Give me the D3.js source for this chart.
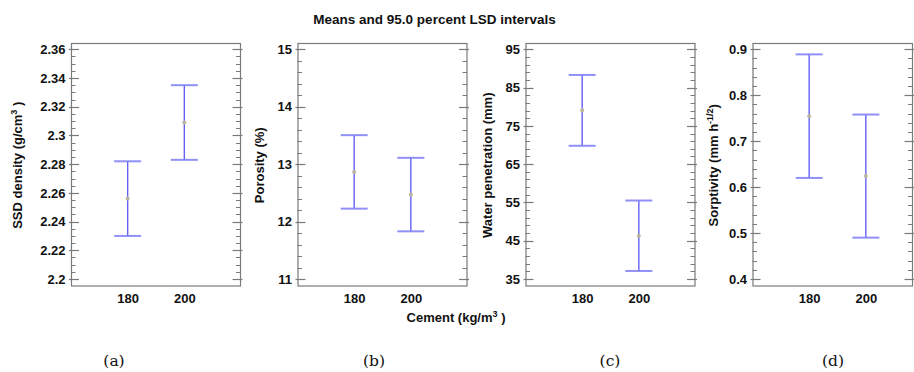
<!DOCTYPE html>
<html>
<head>
<meta charset="utf-8">
<script src="https://cdn.jsdelivr.net/npm/d3@7"></script>
<style>
  body { margin: 0; background: #fff; }
  svg { display: block; }
</style>
</head>
<body>
<svg id="chart" width="914" height="372"></svg>
<script>
// Cement content groups (kg/m3)
const categories = ["180", "200"];

// (a) SSD density, g/cm3: means with 95% LSD interval limits
const densityMean = [2.256, 2.309];
const densityLow  = [2.230, 2.283];
const densityHigh = [2.282, 2.335];

// (b) Porosity, %
const porosityMean = [12.865, 12.47];
const porosityLow  = [12.225, 11.83];
const porosityHigh = [13.505, 13.11];

// (c) Water penetration, mm
const penetrationMean = [79.05, 46.3];
const penetrationLow  = [69.8, 37.1];
const penetrationHigh = [88.3, 55.5];

// (d) Sorptivity, mm h^-1/2
const sorptivityMean = [0.754, 0.624];
const sorptivityLow  = [0.620, 0.490];
const sorptivityHigh = [0.889, 0.758];

// Major tick values for each y axis
const densityTicks     = [2.2, 2.22, 2.24, 2.26, 2.28, 2.3, 2.32, 2.34, 2.36];
const porosityTicks    = [11, 12, 13, 14, 15];
const penetrationTicks = [35, 45, 55, 65, 75, 85, 95];
const sorptivityTicks  = [0.4, 0.5, 0.6, 0.7, 0.8, 0.9];

// Minor tick spacing per axis
const densityMinor = 0.005, porosityMinor = 0.2, penetrationMinor = 2, sorptivityMinor = 0.02;

const panelLetters = ["(a)", "(b)", "(c)", "(d)"];
const chartTitle = "Means and 95.0 percent LSD intervals";

// ---- layout ----
const W = 914;
const boxTop = 43, boxBottom = 285.5;
const tickTop = 49.3, tickBottom = 279;
const plotW = 170;
const panelLeft = [71, 297.5, 525.5, 752.5];
const titleOffset = [54, 38, 38, 39];

const panels = [
  { mean: densityMean, low: densityLow, high: densityHigh, ticks: densityTicks, minor: densityMinor,
    title: [["SSD density (g/cm", 0], ["3", 1], [" )", 0]] },
  { mean: porosityMean, low: porosityLow, high: porosityHigh, ticks: porosityTicks, minor: porosityMinor,
    title: [["Porosity (%)", 0]] },
  { mean: penetrationMean, low: penetrationLow, high: penetrationHigh, ticks: penetrationTicks, minor: penetrationMinor,
    title: [["Water penetration (mm)", 0]] },
  { mean: sorptivityMean, low: sorptivityLow, high: sorptivityHigh, ticks: sorptivityTicks, minor: sorptivityMinor,
    title: [["Sorptivity (mm h", 0], ["-1/2", 1], [")", 0]] }
];

const svg = d3.select("#chart");
svg.append("rect").attr("width", 914).attr("height", 372).attr("fill", "#fff");

const axisColor = "#7a7a7a";
const font = "'Liberation Sans', Arial, sans-serif";
const fmt = v => String(+v.toFixed(4));

// Chart title
svg.append("text")
  .attr("x", 434.5).attr("y", 24)
  .attr("text-anchor", "middle")
  .attr("font-family", font).attr("font-weight", "bold").attr("font-size", 13.5)
  .attr("fill", "#111")
  .text(chartTitle);

panels.forEach((p, i) => {
  const left = panelLeft[i];
  const frameW = Math.min(plotW, W - 1 - left);
  const g = svg.append("g");

  const x = d3.scalePoint().domain(categories).range([left, left + plotW]).padding(1);
  const lo = d3.min(p.ticks), hi = d3.max(p.ticks);
  const y = d3.scaleLinear().domain([lo, hi]).range([tickBottom, tickTop]);

  // frame
  g.append("rect")
    .attr("x", left + 0.5).attr("y", boxTop + 0.5)
    .attr("width", frameW - 1).attr("height", boxBottom - boxTop)
    .attr("fill", "none").attr("stroke", axisColor).attr("stroke-width", 1.2);

  // minor ticks (inside, both sides)
  const minors = d3.range(lo, hi + p.minor / 2, p.minor)
    .filter(v => !p.ticks.some(t => Math.abs(t - v) < p.minor / 10));
  const right = left + frameW - 0.5;
  minors.forEach(v => {
    const yy = Math.round(y(v)) + 0.5;
    g.append("line").attr("x1", left).attr("x2", left + 4.5).attr("y1", yy).attr("y2", yy)
      .attr("stroke", axisColor).attr("stroke-width", 1);
    g.append("line").attr("x1", right).attr("x2", right - 4.5).attr("y1", yy).attr("y2", yy)
      .attr("stroke", axisColor).attr("stroke-width", 1);
  });

  // left axis with major ticks and labels
  const yAxis = d3.axisLeft(y).tickValues(p.ticks).tickFormat(fmt).tickSize(0).tickPadding(6);
  const ax = g.append("g").attr("transform", `translate(${left + 0.5},0)`).call(yAxis);
  ax.select(".domain").remove();
  ax.selectAll("text")
    .attr("font-family", font).attr("font-weight", "bold").attr("font-size", 13)
    .attr("fill", "#111");
  p.ticks.forEach(v => {
    const yy = Math.round(y(v)) + 0.5;
    g.append("line").attr("x1", left - 2).attr("x2", left + 8).attr("y1", yy).attr("y2", yy)
      .attr("stroke", axisColor).attr("stroke-width", 1.2);
    g.append("line").attr("x1", right + 2).attr("x2", right - 8).attr("y1", yy).attr("y2", yy)
      .attr("stroke", axisColor).attr("stroke-width", 1.2);
  });

  // x category labels
  const xAxis = d3.axisBottom(x).tickSize(0).tickPadding(0);
  const xa = g.append("g").attr("transform", `translate(0,${boxBottom})`).call(xAxis);
  xa.select(".domain").remove();
  xa.selectAll("text")
    .attr("y", 17.5).attr("dy", 0)
    .attr("font-family", font).attr("font-weight", "bold").attr("font-size", 13)
    .attr("fill", "#111");

  // y title
  const tx = left - titleOffset[i];
  const ty = (boxTop + boxBottom) / 2 + 1;
  const t = g.append("text")
    .attr("transform", `translate(${tx},${ty}) rotate(-90)`)
    .attr("text-anchor", "middle").attr("dy", "0.35em")
    .attr("font-family", font).attr("font-weight", "bold").attr("font-size", 13)
    .attr("fill", "#111");
  p.title.forEach(([s, sup]) => {
    const ts = t.append("tspan").text(s);
    if (sup) ts.attr("font-size", 9).attr("baseline-shift", "super");
  });

  // error bars
  const capHalf = 13.5;
  const bars = g.selectAll("g.bar").data(categories.map((c, k) => ({ c, m: p.mean[k], l: p.low[k], h: p.high[k] })))
    .join("g").attr("class", "bar");
  bars.append("line")
    .attr("x1", d => x(d.c)).attr("x2", d => x(d.c))
    .attr("y1", d => y(d.l)).attr("y2", d => y(d.h))
    .attr("stroke", "#6262f5").attr("stroke-width", 1.4);
  ["l", "h"].forEach(k => {
    bars.append("line")
      .attr("x1", d => x(d.c) - capHalf).attr("x2", d => x(d.c) + capHalf)
      .attr("y1", d => y(d[k])).attr("y2", d => y(d[k]))
      .attr("stroke", "#7c7cf7").attr("stroke-width", 2).attr("stroke-opacity", 0.85);
  });
  bars.append("circle")
    .attr("cx", d => x(d.c)).attr("cy", d => y(d.m)).attr("r", 2)
    .attr("fill", "#b9b79a");

  // panel letter
  svg.append("text")
    .attr("x", [114, 374, 610, 833][i]).attr("y", 366)
    .attr("text-anchor", "middle")
    .attr("font-family", "'DejaVu Serif', 'Liberation Serif', serif").attr("font-size", 15.5)
    .attr("fill", "#111")
    .text(panelLetters[i]);
});

// shared x-axis title
const xt = svg.append("text")
  .attr("x", 456).attr("y", 322)
  .attr("text-anchor", "middle")
  .attr("font-family", font).attr("font-weight", "bold").attr("font-size", 13)
  .attr("fill", "#111");
xt.append("tspan").text("Cement (kg/m");
xt.append("tspan").text("3").attr("font-size", 9).attr("baseline-shift", "super");
xt.append("tspan").text(" )");
</script>
</body>
</html>
